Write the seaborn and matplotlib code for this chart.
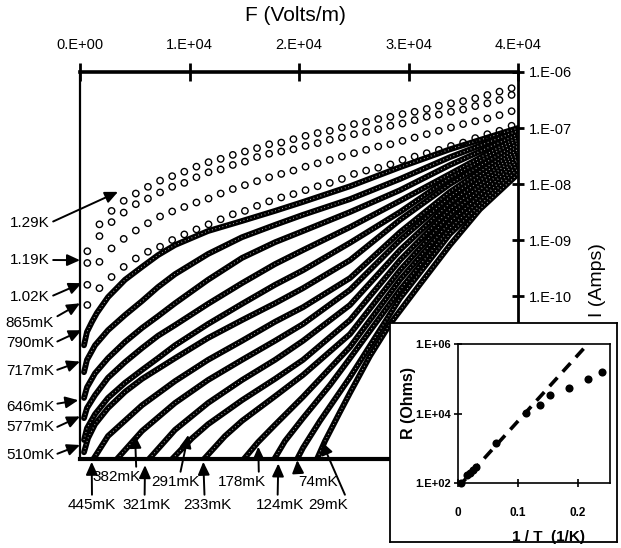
import numpy as np
import pandas as pd
import matplotlib
matplotlib.use("Agg")
import matplotlib.pyplot as plt
from matplotlib.ticker import NullLocator
import seaborn as sns

sns.set_theme(style="ticks")
plt.rcParams["font.family"] = ["Liberation Sans", "DejaVu Sans"]
for k in ["axes.edgecolor", "axes.labelcolor", "xtick.color", "ytick.color", "text.color"]:
    plt.rcParams[k] = "black"

# ---------------- data : main panel (F in V/m, log10 of I in A) ----------------
F_sparse = [670, 1777, 2884, 3991, 5098, 6205, 7312, 8419, 9526, 10633, 11740, 12847,
            13954, 15061, 16168, 17275, 18382, 19489, 20596, 21703, 22810, 23917, 25024,
            26131, 27238, 28345, 29452, 30559, 31666, 32773, 33880, 34987, 36094, 37201,
            38308, 39415]
logI_1290mK = [-9.20, -8.72, -8.48, -8.30, -8.17, -8.05, -7.94, -7.86, -7.78, -7.69, -7.61, -7.55,
               -7.48, -7.42, -7.36, -7.29, -7.26, -7.20, -7.14, -7.09, -7.05, -6.99, -6.93, -6.89,
               -6.84, -6.80, -6.75, -6.71, -6.66, -6.60, -6.56, -6.52, -6.47, -6.41, -6.35, -6.29]
logI_1190mK = [-9.41, -8.93, -8.68, -8.51, -8.36, -8.26, -8.15, -8.05, -7.98, -7.88, -7.79, -7.74,
               -7.66, -7.60, -7.52, -7.46, -7.42, -7.38, -7.32, -7.27, -7.21, -7.17, -7.11, -7.07,
               -7.02, -6.96, -6.92, -6.86, -6.80, -6.76, -6.71, -6.67, -6.61, -6.56, -6.50, -6.41]
logI_1020mK = [-9.80, -9.39, -9.15, -8.98, -8.83, -8.70, -8.58, -8.49, -8.41, -8.33, -8.26, -8.17,
               -8.09, -8.02, -7.95, -7.88, -7.82, -7.76, -7.69, -7.63, -7.57, -7.51, -7.45, -7.39,
               -7.33, -7.29, -7.23, -7.17, -7.11, -7.05, -6.99, -6.93, -6.88, -6.83, -6.77, -6.70]
logI_865mK = [-10.16, -9.86, -9.66, -9.48, -9.33, -9.21, -9.12, -9.00, -8.90, -8.81, -8.72, -8.63,
              -8.54, -8.48, -8.39, -8.31, -8.24, -8.18, -8.11, -8.04, -7.98, -7.91, -7.82, -7.76,
              -7.71, -7.65, -7.57, -7.51, -7.45, -7.39, -7.32, -7.26, -7.18, -7.11, -7.05, -6.96]

F_790mK = [365, 639, 1096, 1552, 2557, 4109, 5662, 7123, 8675, 11689, 14794, 17808, 20365, 24656, 29224, 33790, 40000]
logI_790mK = [-10.88, -10.64, -10.46, -10.30, -10.02, -9.71, -9.48, -9.27, -9.09, -8.84, -8.66, -8.48, -8.32, -8.04, -7.70, -7.38, -7.00]
F_717mK = [365, 639, 1370, 2557, 4109, 5662, 7123, 8675, 11689, 14794, 17808, 20365, 24656, 29224, 33790, 40000]
logI_717mK = [-11.36, -11.14, -10.88, -10.61, -10.34, -10.09, -9.84, -9.61, -9.25, -8.95, -8.73, -8.55, -8.27, -7.91, -7.52, -7.05]
F_646mK = [365, 639, 1370, 2557, 4109, 5662, 7123, 8675, 11689, 14794, 17808, 20365, 24656, 29224, 33790, 40000]
logI_646mK = [-11.82, -11.63, -11.38, -11.11, -10.82, -10.57, -10.36, -10.13, -9.71, -9.32, -9.04, -8.84, -8.50, -8.11, -7.66, -7.11]
F_577mK = [365, 639, 1370, 2557, 4109, 5662, 7123, 8675, 11689, 14794, 17808, 20365, 24656, 29224, 33790, 40000]
logI_577mK = [-12.18, -12.00, -11.77, -11.46, -11.18, -10.93, -10.71, -10.52, -10.14, -9.77, -9.43, -9.18, -8.77, -8.30, -7.82, -7.16]
F_510mK = [365, 639, 1370, 2557, 4109, 5662, 7123, 8675, 11689, 14794, 17808, 20365, 24656, 29224, 33790, 40000]
logI_510mK = [-12.57, -12.36, -12.11, -11.82, -11.55, -11.32, -11.11, -10.88, -10.50, -10.14, -9.80, -9.54, -9.05, -8.50, -7.89, -7.21]
F_unlabelled = [365, 731, 1370, 2557, 4109, 5662, 8675, 11689, 14794, 17808, 20365, 24656, 29224, 33790, 40000]
logI_unlabelled = [-12.79, -12.54, -12.29, -12.00, -11.71, -11.48, -11.11, -10.75, -10.43, -10.13, -9.86, -9.36, -8.64, -8.00, -7.27]
F_445mK = [1096, 2557, 5662, 8675, 11689, 14794, 17808, 20365, 24656, 29224, 33790, 40000]
logI_445mK = [-12.95, -12.50, -11.95, -11.52, -11.14, -10.80, -10.46, -10.20, -9.68, -8.86, -8.14, -7.32]
F_382mK = [3196, 5662, 8675, 11689, 14794, 17808, 20365, 24656, 29224, 33790, 40000]
logI_382mK = [-12.95, -12.41, -11.91, -11.50, -11.14, -10.80, -10.50, -9.89, -9.00, -8.23, -7.38]
F_321mK = [6118, 8675, 11689, 14794, 17808, 20365, 24656, 29224, 33790, 40000]
logI_321mK = [-12.95, -12.39, -11.91, -11.50, -11.14, -10.80, -10.16, -9.18, -8.34, -7.43]
F_291mK = [8219, 10228, 11689, 14794, 17808, 20365, 24656, 29224, 33790, 40000]
logI_291mK = [-12.95, -12.54, -12.29, -11.86, -11.48, -11.14, -10.43, -9.36, -8.45, -7.48]
F_233mK = [11141, 13242, 14794, 17808, 20365, 24656, 29224, 33790, 40000]
logI_233mK = [-12.95, -12.50, -12.23, -11.79, -11.41, -10.68, -9.54, -8.55, -7.54]
F_178mK = [14794, 16255, 17808, 20365, 24656, 29224, 33790, 40000]
logI_178mK = [-12.95, -12.61, -12.30, -11.80, -10.91, -9.71, -8.68, -7.59]
F_124mK = [17625, 18721, 20365, 22830, 24656, 29224, 33790, 40000]
logI_124mK = [-12.95, -12.59, -12.18, -11.59, -11.11, -9.89, -8.79, -7.66]
F_74mK = [19725, 20365, 21917, 24656, 29224, 33790, 40000]
logI_74mK = [-12.95, -12.71, -12.23, -11.45, -10.04, -8.89, -7.73]
F_29mK = [21552, 22373, 23743, 24656, 26483, 28309, 31049, 33790, 36528, 40000]
logI_29mK = [-12.95, -12.59, -12.07, -11.73, -11.07, -10.50, -9.79, -9.09, -8.45, -7.82]

x_ticks = [0, 10000, 20000, 30000, 40000]
x_ticklabels = ["0.E+00", "1.E+04", "2.E+04", "3.E+04", "4.E+04"]
y_ticks = [1e-6, 1e-7, 1e-8, 1e-9, 1e-10]
y_ticklabels = ["1.E-06", "1.E-07", "1.E-08", "1.E-09", "1.E-10"]

# ---------------- data : inset ----------------
inv_T = [0.0045, 0.015, 0.020, 0.025, 0.030, 0.063, 0.114, 0.137, 0.154, 0.185, 0.216, 0.2395]
R_ohm = [100, 175, 200, 240, 280, 1400, 10500, 18000, 34000, 54000, 100000, 160000]
inv_T_fit = [0.0, 0.224]
R_fit = [75, 1.4e6]
inset_xticks = [0, 0.1, 0.2]
inset_xticklabels = ["0", "0.1", "0.2"]
inset_yticks = [1e2, 1e4, 1e6]
inset_yticklabels = ["1.E+02", "1.E+04", "1.E+06"]

# ---------------- figure ----------------
W, H = 621, 548
fig = plt.figure(figsize=(W / 100, H / 100), dpi=100)
fig.patch.set_facecolor("white")
ax = fig.add_axes([80 / W, 1 - 459 / H, 438 / W, 387 / H])
ax.set_facecolor("white")

for logs in [logI_1290mK, logI_1190mK, logI_1020mK, logI_865mK]:
    sns.scatterplot(x=F_sparse, y=10.0 ** np.array(logs), ax=ax, marker="o", s=21,
                    facecolor="none", edgecolor="black", linewidth=1.0, zorder=3)

dense = [(F_790mK, logI_790mK), (F_717mK, logI_717mK), (F_646mK, logI_646mK),
         (F_577mK, logI_577mK), (F_510mK, logI_510mK), (F_unlabelled, logI_unlabelled),
         (F_445mK, logI_445mK), (F_382mK, logI_382mK), (F_321mK, logI_321mK),
         (F_291mK, logI_291mK), (F_233mK, logI_233mK), (F_178mK, logI_178mK),
         (F_124mK, logI_124mK), (F_74mK, logI_74mK), (F_29mK, logI_29mK)]
for F, logs in dense:
    sns.lineplot(x=F, y=10.0 ** np.array(logs), ax=ax, color="black", linewidth=4.2,
                 estimator=None, sort=False, zorder=2)
    # faint speckle inside the band (the band is a dense chain of open circles)
    sns.lineplot(x=F, y=10.0 ** np.array(logs), ax=ax, color="white", linewidth=0.8,
                 linestyle=(0, (0.7, 2.6)), alpha=0.75, estimator=None, sort=False, zorder=2.5)

ax.set_yscale("log")
ax.set_xlim(0, 40000)
ax.set_ylim(10 ** -12.91, 1e-6)
ax.xaxis.tick_top()
ax.xaxis.set_label_position("top")
ax.set_xticks(x_ticks)
ax.set_xticklabels(x_ticklabels)
ax.yaxis.tick_right()
ax.yaxis.set_label_position("right")
ax.set_yticks(y_ticks)
ax.set_yticklabels(y_ticklabels)
ax.yaxis.set_minor_locator(NullLocator())
ax.xaxis.set_minor_locator(NullLocator())
ax.tick_params(axis="x", direction="inout", length=13, width=2, pad=8, labelsize=10.5)
ax.tick_params(axis="y", direction="inout", length=9, width=2, pad=3, labelsize=10.5)
ax.set_xlabel("F (Volts/m)", fontsize=15)
ax.xaxis.set_label_coords((295 - 80) / 438, (459 - 21) / 387)
ax.set_ylabel("I (Amps)", fontsize=14, rotation=90, va="center", ha="center")
ax.yaxis.set_label_coords((597 - 80) / 438, (459 - 280) / 387)
for side, lw in [("top", 2.6), ("bottom", 3.0), ("left", 1.6), ("right", 2.0)]:
    ax.spines[side].set_linewidth(lw)
    ax.spines[side].set_color("black")

# curve labels with arrows: (text, text x px, text y px, tip F, tip log10 I, relpos)
left_labels = [("1.29K", 30, 223, 3470, -8.14, (1, 0.5)),
               ("1.19K", 30, 260, 0, -9.36, (1, 0.5)),
               ("1.02K", 30, 297, 155, -9.77, (1, 0.5)),
               ("865mK", 30, 323, 0, -10.13, (1, 0.85)),
               ("790mK", 30, 343, 155, -10.61, (1, 0.5)),
               ("717mK", 30, 371, 0, -11.17, (1, 0.5)),
               ("646mK", 30, 407, -155, -11.86, (1, 0.7)),
               ("577mK", 30, 427, 0, -12.15, (1, 0.4)),
               ("510mK", 30, 455, 0, -12.66, (1, 0.5))]
bottom_labels = [("445mK", 92, 505, 1068, -12.96, (0.5, 1)),
                 ("382mK", 117, 477, 5023, -12.48, (0.9, 1)),
                 ("321mK", 147, 505, 5936, -13.02, (0.45, 1)),
                 ("291mK", 175, 482, 9890, -12.48, (0.6, 1)),
                 ("233mK", 207, 505, 11260, -12.96, (0.45, 1)),
                 ("178mK", 242, 482, 16282, -12.69, (0.85, 1)),
                 ("124mK", 280, 505, 18109, -12.99, (0.45, 1)),
                 ("74mK", 318, 482, 19844, -12.93, (0.0, 1)),
                 ("29mK", 328, 505, 22072, -12.60, (1.0, 0.75))]
for txt, tx, ty, fx, ly, rp in left_labels + bottom_labels:
    ax.annotate(txt, xy=(fx, 10.0 ** ly), xycoords="data",
                xytext=(tx, H - ty), textcoords="figure pixels",
                ha="center", va="center", fontsize=11, annotation_clip=False,
                arrowprops=dict(arrowstyle="-|>,head_length=0.55,head_width=0.25",
                                color="black", lw=1.4, shrinkA=0, shrinkB=0,
                                mutation_scale=14, relpos=rp))

# ---------------- inset ----------------
frame = fig.add_axes([390 / W, 1 - 542 / H, 227 / W, 219 / H])
frame.set_zorder(5)
frame.set_facecolor("white")
frame.set_xticks([])
frame.set_yticks([])
for s in frame.spines.values():
    s.set_linewidth(1.3)
    s.set_color("black")

ins = fig.add_axes([458 / W, 1 - 483 / H, 152 / W, 139 / H])
ins.set_zorder(6)
ins.set_facecolor("white")
sns.lineplot(x=inv_T_fit, y=R_fit, ax=ins, color="black", linewidth=2.6,
             linestyle=(0, (3.2, 2.2)), estimator=None, sort=False)
sns.scatterplot(x=inv_T, y=R_ohm, ax=ins, color="black", s=34, edgecolor="black",
                linewidth=0, zorder=4, clip_on=False)
ins.set_yscale("log")
ins.set_xlim(0, 0.2533)
ins.set_ylim(1e2, 1e6)
ins.set_xticks(inset_xticks)
ins.set_xticklabels(inset_xticklabels, fontweight="bold")
ins.set_yticks(inset_yticks)
ins.set_yticklabels(inset_yticklabels, fontweight="bold")
ins.yaxis.set_minor_locator(NullLocator())
ins.tick_params(axis="x", direction="inout", length=6, width=1.2, pad=14, labelsize=8.5)
ins.tick_params(axis="y", direction="inout", length=6, width=1.2, pad=2, labelsize=8)
ins.set_xlabel("1 / T  (1/K)", fontsize=11, fontweight="bold")
ins.xaxis.set_label_coords((549 - 458) / 152, (483 - 530) / 139)
ins.set_ylabel("R (Ohms)", fontsize=11.5, fontweight="bold")
ins.yaxis.set_label_coords((416 - 458) / 152, (483 - 403) / 139)
for s in ins.spines.values():
    s.set_linewidth(1.2)
    s.set_color("black")

fig.savefig("out.png", dpi=100, facecolor="white")
